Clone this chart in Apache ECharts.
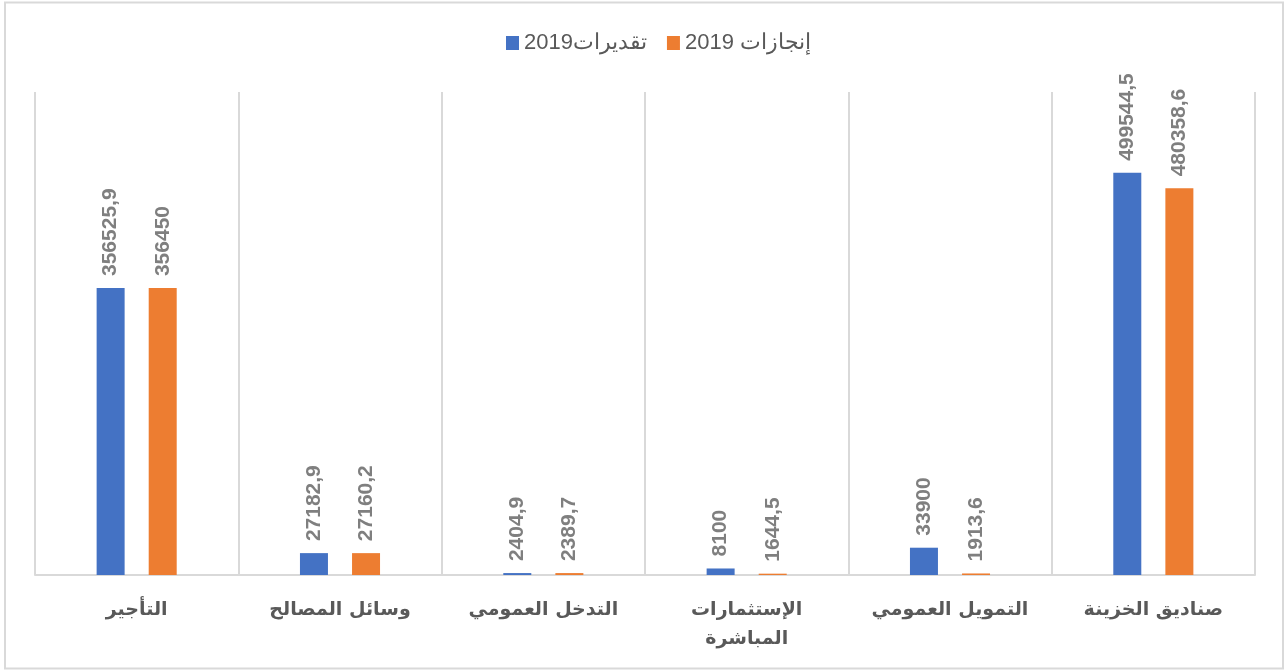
<!DOCTYPE html>
<html>
<head>
<meta charset="utf-8">
<script src="https://cdn.jsdelivr.net/npm/echarts@6/dist/echarts.min.js"></script>
<style>
    html, body { margin: 0; padding: 0; background: #fff; }
    #chart { width: 1286px; height: 670px; }
</style>
</head>
<body>
<div id="chart"></div>
<script>
    // categories left to right as drawn
    var categories = ['التأجير', 'وسائل المصالح', 'التدخل العمومي', 'الإستثمارات\nالمباشرة', 'التمويل العمومي', 'صناديق الخزينة'];
    var estimates = [356525.9, 27182.9, 2404.9, 8100, 33900, 499544.5];   // تقديرات2019
    var actuals = [356450, 27160.2, 2389.7, 1644.5, 1913.6, 480358.6];     // إنجازات 2019
    var seriesNames = ['تقديرات2019', 'إنجازات 2019'];

    var chart = echarts.init(document.getElementById('chart'));

    var valueLabel = {
        show: true,
        position: 'top',
        rotate: 90,
        align: 'left',
        verticalAlign: 'middle',
        distance: 12,
        color: '#7f7f7f',
        fontSize: 21,
        fontWeight: 'bold',
        fontFamily: 'Liberation Sans',
        formatter: function (p) {
            return String(p.value).replace('.', ',');
        }
    };

    chart.setOption({
        animation: false,
        graphic: [{
            type: 'rect',
            shape: { x: 5, y: 2.5, width: 1278, height: 666 },
            style: { fill: 'none', stroke: '#d9d9d9', lineWidth: 2 },
            silent: true
        }],
        legend: {
            top: 27,
            left: 501,
            itemWidth: 13,
            itemHeight: 14,
            itemGap: 20,
            icon: 'rect',
            textStyle: {
                color: '#595959',
                fontSize: 22,
                fontFamily: 'Liberation Sans'
            },
            data: seriesNames
        },
        grid: {
            left: 35,
            right: 31,
            top: 92,
            bottom: 95
        },
        xAxis: {
            type: 'category',
            data: categories,
            axisLine: {
                show: true,
                lineStyle: { color: '#d9d9d9', width: 2 }
            },
            axisTick: { show: false },
            splitLine: {
                show: true,
                lineStyle: { color: '#d9d9d9', width: 2 }
            },
            axisLabel: {
                interval: 0,
                margin: 21,
                color: '#595959',
                fontSize: 19,
                fontWeight: 'bold',
                fontFamily: 'DejaVu Sans',
                lineHeight: 29
            }
        },
        yAxis: {
            type: 'value',
            min: 0,
            max: 600000,
            axisLabel: { show: false },
            axisLine: { show: false },
            axisTick: { show: false },
            splitLine: { show: false }
        },
        series: [{
            name: seriesNames[0],
            type: 'bar',
            barWidth: 28,
            barGap: '86%',
            itemStyle: { color: '#4472c4' },
            label: valueLabel,
            data: estimates
        }, {
            name: seriesNames[1],
            type: 'bar',
            barWidth: 28,
            itemStyle: { color: '#ed7d31' },
            label: valueLabel,
            data: actuals
        }]
    });
</script>
</body>
</html>
